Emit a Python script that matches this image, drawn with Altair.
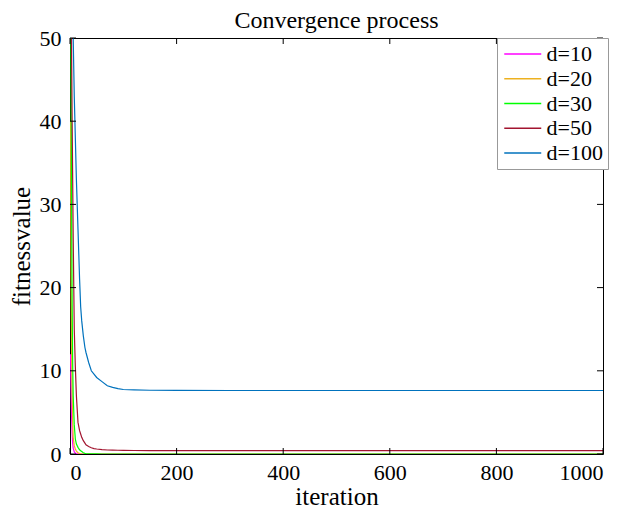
import altair as alt
import pandas as pd

iterations = [1, 2, 3, 4, 5, 6, 8, 10, 12, 15, 18, 20, 22, 25, 28, 30, 35, 40, 45, 50,
              60, 70, 80, 90, 100, 120, 150, 200, 300, 400, 500, 600, 700, 800, 900, 1000]

d10 = [12, 8, 4.5, 2.5, 1.3, 0.7, 0.25, 0.1, 0.05, 0.02, 0.01, 0, 0, 0, 0, 0, 0, 0, 0, 0,
       0, 0, 0, 0, 0, 0, 0, 0, 0, 0, 0, 0, 0, 0, 0, 0]
d20 = [40, 22, 12, 7, 4, 2, 1, 0.6, 0.35, 0.15, 0.05, 0.02, 0.01, 0, 0, 0, 0, 0, 0, 0,
       0, 0, 0, 0, 0, 0, 0, 0, 0, 0, 0, 0, 0, 0, 0, 0]
d30 = [65, 45, 30, 18, 11, 7, 3.5, 1.8, 1.2, 0.8, 0.5, 0.4, 0.3, 0.15, 0.08, 0.05, 0.02, 0.01, 0.01, 0.01,
       0, 0, 0, 0, 0, 0, 0, 0, 0, 0, 0, 0, 0, 0, 0, 0]
d50 = [75, 60, 48, 40, 33, 26, 15, 10.5, 7, 3.8, 2.8, 2.4, 2.0, 1.6, 1.3, 1.1, 0.9, 0.75, 0.65, 0.6,
       0.52, 0.48, 0.46, 0.45, 0.44, 0.42, 0.41, 0.4, 0.4, 0.4, 0.4, 0.4, 0.4, 0.4, 0.4, 0.4]
d100 = [90, 80, 70, 62, 56, 50, 43, 38, 33, 27, 21, 17.7, 16, 14.2, 12.8, 12.2, 11, 10, 9.6, 9.2,
        8.7, 8.2, 8.0, 7.85, 7.75, 7.7, 7.66, 7.64, 7.63, 7.63, 7.63, 7.63, 7.63, 7.63, 7.63, 7.63]

series_names = ["d=10", "d=20", "d=30", "d=50", "d=100"]
series_values = [d10, d20, d30, d50, d100]
series_colors = ["#ff00ff", "#edb120", "#00ff00", "#a2142f", "#0072bd"]

x_ticks = [0, 200, 400, 600, 800, 1000]
y_ticks = [0, 10, 20, 30, 40, 50]

rows = []
for name, vals in zip(series_names, series_values):
    for it, v in zip(iterations, vals):
        rows.append({"iteration": it, "fitness": v, "series": name})
df = pd.DataFrame(rows)

W, H = 533, 416
FONT = "Liberation Serif"

x_scale = alt.Scale(domain=[0, 1000], nice=False)
y_scale = alt.Scale(domain=[0, 50], nice=False)
x_axis = alt.Axis(values=x_ticks, title="iteration", format="d")
y_axis = alt.Axis(values=y_ticks, title="fitnessvalue", format="d")

lines = alt.Chart(df).mark_line(clip=True, strokeWidth=1.2).encode(
    x=alt.X("iteration:Q", scale=x_scale, axis=x_axis),
    y=alt.Y("fitness:Q", scale=y_scale, axis=y_axis),
    color=alt.Color(
        "series:N",
        scale=alt.Scale(domain=series_names, range=series_colors),
        sort=series_names,
        legend=alt.Legend(
            title=None, orient="none", legendX=427, legendY=0,
            symbolType="M-2,0H2", symbolSize=342, symbolStrokeWidth=1.5,
            symbolOffset=9.75,
            labelFont=FONT, labelFontSize=22, labelColor="black",
            fillColor="white", strokeColor="#999999", padding=5,
            rowPadding=2.75, labelOffset=12.75,
        ),
    ),
    order=alt.Order("iteration:Q"),
)

xt = pd.DataFrame({"iteration": x_ticks})
yt = pd.DataFrame({"fitness": y_ticks})

tick_bottom = alt.Chart(xt).mark_rule(color="black").encode(
    x=alt.X("iteration:Q", scale=x_scale, axis=x_axis), y=alt.value(H), y2=alt.value(H - 6))
tick_top = alt.Chart(xt).mark_rule(color="black").encode(
    x=alt.X("iteration:Q", scale=x_scale, axis=x_axis), y=alt.value(0), y2=alt.value(6))
tick_left = alt.Chart(yt).mark_rule(color="black").encode(
    y=alt.Y("fitness:Q", scale=y_scale, axis=y_axis), x=alt.value(0), x2=alt.value(6))
tick_right = alt.Chart(yt).mark_rule(color="black").encode(
    y=alt.Y("fitness:Q", scale=y_scale, axis=y_axis), x=alt.value(W), x2=alt.value(W - 6))

chart = alt.layer(lines, tick_bottom, tick_top, tick_left, tick_right).properties(
    width=W, height=H,
    title=alt.Title("Convergence process", font=FONT, fontSize=24, fontWeight="normal",
                    color="black", offset=-6, frame="group"),
    autosize=alt.AutoSizeParams(type="none"),
    padding={"left": 62, "top": 30, "right": 22, "bottom": 54},
).configure_view(
    stroke="black", strokeWidth=1
).configure_axis(
    grid=False, domain=False, ticks=False,
    labelFont=FONT, labelFontSize=22, labelColor="black",
    titleFont=FONT, titleFontSize=25, titleFontWeight="normal", titleColor="black",
).configure_axisX(labelPadding=8, titlePadding=1).configure_axisY(labelPadding=9, titlePadding=5)

chart.save("out.html", embed_options={"renderer": "svg", "actions": False})
